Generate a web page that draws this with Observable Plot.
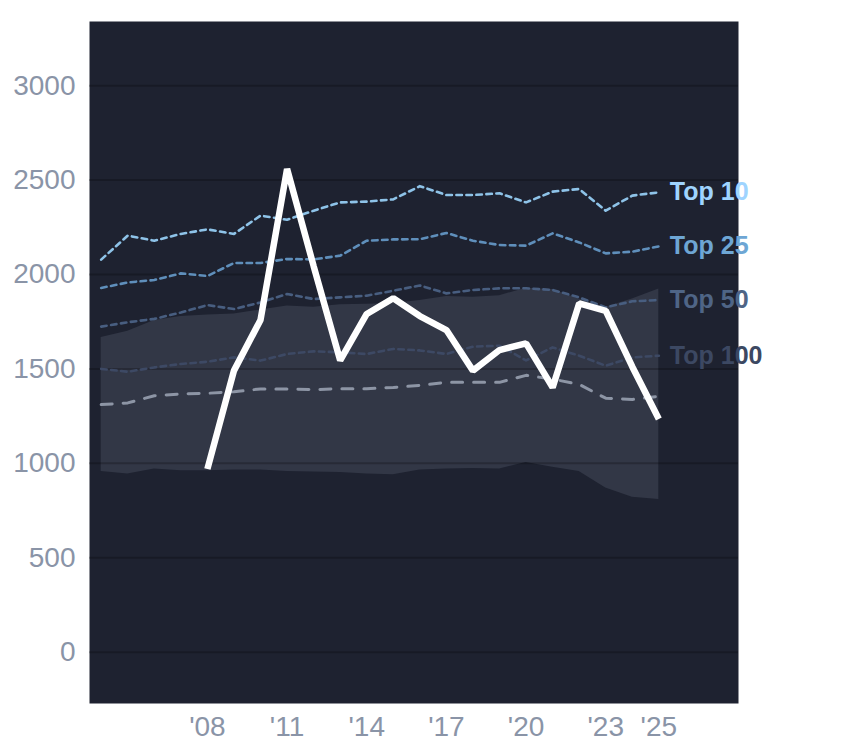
<!DOCTYPE html>
<html>
<head>
<meta charset="utf-8">
<script src="https://cdn.jsdelivr.net/npm/d3@7"></script>
<script src="https://cdn.jsdelivr.net/npm/@observablehq/plot@0.6"></script>
<style>
  html, body { margin: 0; padding: 0; background: #ffffff; }
  #chart svg { display: block; }
</style>
</head>
<body>
<div id="chart"></div>
<script>
const years = [2004, 2005, 2006, 2007, 2008, 2009, 2010, 2011, 2012, 2013, 2014, 2015, 2016, 2017, 2018, 2019, 2020, 2021, 2022, 2023, 2024, 2025];
const top10 = [2079, 2206, 2179, 2215, 2239, 2215, 2312, 2290, 2338, 2382, 2386, 2398, 2468, 2421, 2421, 2430, 2382, 2439, 2453, 2338, 2418, 2435];
const top25 = [1929, 1958, 1971, 2006, 1992, 2061, 2061, 2082, 2080, 2100, 2179, 2186, 2187, 2220, 2179, 2156, 2153, 2218, 2170, 2112, 2121, 2149];
const top50 = [1724, 1747, 1765, 1799, 1838, 1817, 1852, 1897, 1870, 1879, 1888, 1914, 1942, 1900, 1918, 1927, 1927, 1918, 1879, 1826, 1858, 1865];
const top100 = [1500, 1485, 1508, 1526, 1538, 1561, 1544, 1579, 1593, 1588, 1579, 1606, 1598, 1579, 1618, 1623, 1545, 1614, 1570, 1517, 1561, 1570];
const median = [1311, 1320, 1358, 1367, 1371, 1379, 1394, 1394, 1390, 1395, 1395, 1402, 1413, 1429, 1429, 1429, 1466, 1446, 1418, 1345, 1338, 1355];
const bandHigh = [1667, 1699, 1756, 1777, 1786, 1791, 1812, 1833, 1826, 1840, 1843, 1847, 1863, 1884, 1879, 1888, 1927, 1920, 1870, 1826, 1870, 1923];
const bandLow = [957, 944, 970, 961, 961, 965, 965, 957, 954, 951, 944, 940, 965, 970, 973, 970, 1005, 979, 957, 869, 820, 808];
const mainYears = [2008, 2009, 2010, 2011, 2012, 2013, 2014, 2015, 2016, 2017, 2018, 2019, 2020, 2021, 2022, 2023, 2024, 2025];
const mainValues = [970, 1491, 1759, 2559, 2045, 1545, 1791, 1874, 1780, 1706, 1491, 1600, 1635, 1402, 1847, 1808, 1512, 1235];
const xTicks = [2008, 2011, 2014, 2017, 2020, 2023, 2025];
const yTicks = [0, 500, 1000, 1500, 2000, 2500, 3000];
const seriesNames = ["Top 10", "Top 25", "Top 50", "Top 100"];
const lineColors = ["#8ec3e8", "#5f8fbb", "#485e80", "#3d4964"];
const labelColors = ["#9fd4ff", "#6ea6d4", "#4f6586", "#3c4862"];

const seriesValues = [top10, top25, top50, top100];
const band = years.map((y, i) => ({year: y, lo: bandLow[i], hi: bandHigh[i]}));
const med = years.map((y, i) => ({year: y, v: median[i]}));
const main = mainYears.map((y, i) => ({year: y, v: mainValues[i]}));
const seriesData = seriesNames.map((name, k) => years.map((y, i) => ({year: y, v: seriesValues[k][i]})));
const labels = seriesNames.map((name, k) => ({name, year: years[years.length - 1], v: seriesValues[k][years.length - 1], color: labelColors[k]}));

const fontFamily = "'Liberation Sans', Arial, sans-serif";

const marks = [
  Plot.frame({fill: "#1e2230", stroke: null}),
  Plot.areaY(band, {x: "year", y1: "lo", y2: "hi", fill: "#323746"}),
  Plot.ruleY(yTicks, {stroke: "#000000", strokeOpacity: 0.22, strokeWidth: 2}),
];
for (let k = seriesNames.length - 1; k >= 0; k--) {
  marks.push(Plot.line(seriesData[k], {x: "year", y: "v", stroke: lineColors[k], strokeWidth: 2.6, strokeDasharray: "5.5,4.5"}));
}
marks.push(Plot.line(med, {x: "year", y: "v", stroke: "#8d95a5", strokeWidth: 3, strokeDasharray: "11,11"}));
marks.push(Plot.line(main, {x: "year", y: "v", stroke: "#ffffff", strokeWidth: 6.5, strokeLinejoin: "miter", strokeLinecap: "butt"}));
marks.push(Plot.text(labels, {x: "year", y: "v", text: "name", fill: "color", dx: 11, textAnchor: "start", fontSize: 25, fontWeight: "bold"}));

const chart = Plot.plot({
  width: 844,
  height: 748,
  marginLeft: 89,
  marginRight: 106,
  marginTop: 21,
  marginBottom: 45,
  style: {fontFamily, background: "#ffffff", overflow: "visible"},
  x: {domain: [2003.56, 2028], ticks: xTicks, tickFormat: d => "'" + String(d).slice(2), tickSize: 0, tickPadding: 13, label: null},
  y: {domain: [-272, 3340], ticks: yTicks, tickFormat: d => String(d), tickSize: 0, tickPadding: 14, label: null},
  marks: [
    ...marks,
    Plot.axisX({ticks: xTicks, tickFormat: d => "'" + String(d).slice(2), tickSize: 0, tickPadding: 13, fontSize: 28, color: "#8a94a7", label: null}),
    Plot.axisY({ticks: yTicks, tickFormat: d => String(d), tickSize: 0, tickPadding: 14, fontSize: 28, color: "#8a94a7", label: null})
  ]
});
document.getElementById("chart").appendChild(chart);
</script>
</body>
</html>
